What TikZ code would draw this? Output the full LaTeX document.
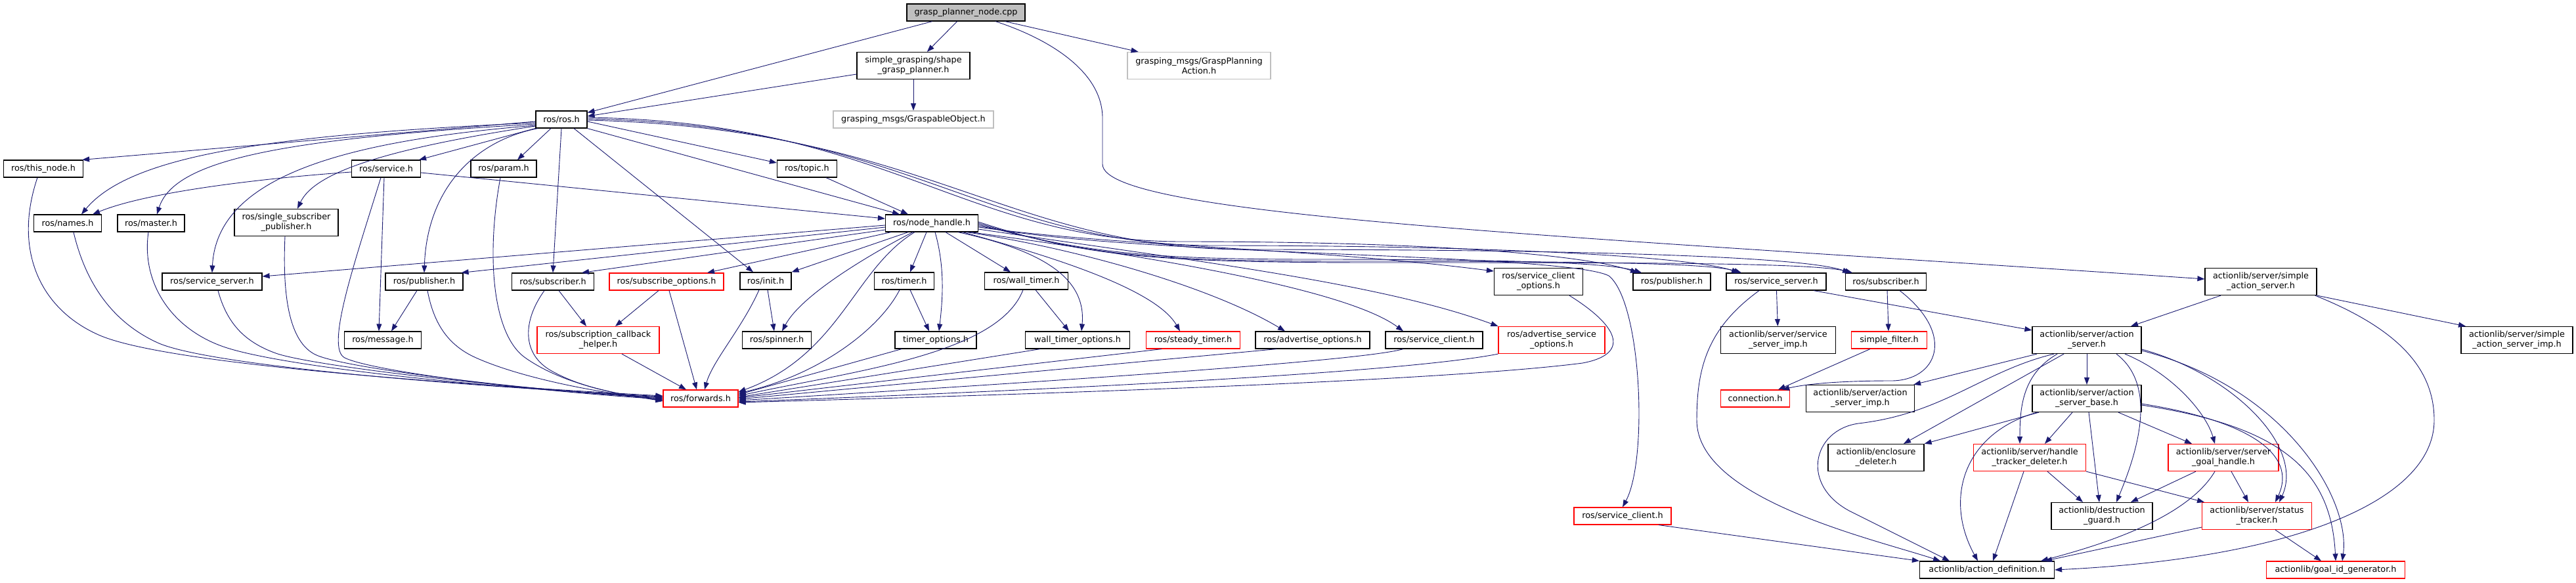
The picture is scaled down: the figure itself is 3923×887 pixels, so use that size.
\documentclass[tikz,border=0pt]{standalone}
\usepackage{fontspec}
\setmainfont{DejaVu Sans}
\usetikzlibrary{arrows.meta}
\definecolor{edgecol}{HTML}{191970}
\definecolor{lgray}{HTML}{BFBFBF}
\definecolor{gfill}{HTML}{BFBFBF}
\definecolor{tred}{HTML}{FF0000}
\tikzset{
  nbox/.style={rectangle, draw=black, fill=white, line width=1.2pt, minimum height=26pt,
    inner sep=0pt, align=center, font=\fontsize{12.8}{15}\selectfont},
  nbox2/.style={nbox, minimum height=41pt},
  redb/.style={draw=tred},
  grayb/.style={draw=lgray},
  edg/.style={draw=edgecol, line width=0.9pt, -{Triangle[length=11pt,width=8pt]}},
}
\begin{document}
\begin{tikzpicture}[x=1pt,y=-1pt]
\useasboundingbox (0,0) rectangle (3923,887);
% ---------- nodes ----------
\node[nbox, fill=gfill, minimum width=180] (gp) at (1471,19) {grasp\_planner\_node.cpp};
\node[nbox2, minimum width=172] (sgp) at (1391,100) {simple\_grasping/shape\\\_grasp\_planner.h};
\node[nbox2, grayb, minimum width=218] (gpa) at (1826,100) {grasping\_msgs/GraspPlanning\\Action.h};
\node[nbox, grayb, minimum width=244] (go) at (1391,182) {grasping\_msgs/GraspableObject.h};
\node[nbox, minimum width=78] (rosh) at (855,182) {ros/ros.h};
\node[nbox, minimum width=121] (thisnode) at (66,257) {ros/this\_node.h};
\node[nbox, minimum width=105] (service) at (588,257) {ros/service.h};
\node[nbox, minimum width=100] (param) at (767,257) {ros/param.h};
\node[nbox, minimum width=91] (topic) at (1229,257) {ros/topic.h};
\node[nbox, minimum width=103] (names) at (103,340) {ros/names.h};
\node[nbox, minimum width=102] (master) at (230,340) {ros/master.h};
\node[nbox2, minimum width=158] (ssp) at (436,339) {ros/single\_subscriber\\\_publisher.h};
\node[nbox, minimum width=141] (nh) at (1419,340) {ros/node\_handle.h};
\node[nbox, minimum width=152] (ssL) at (323,429) {ros/service\_server.h};
\node[nbox, minimum width=118] (pubL) at (646,429) {ros/publisher.h};
\node[nbox, minimum width=125] (subL) at (842,429) {ros/subscriber.h};
\node[nbox, redb, minimum width=174] (subopt) at (1015,429) {ros/subscribe\_options.h};
\node[nbox, minimum width=78] (init) at (1166,428) {ros/init.h};
\node[nbox, minimum width=91] (timer) at (1377,428) {ros/timer.h};
\node[nbox, minimum width=127] (wtimer) at (1563,428) {ros/wall\_timer.h};
\node[nbox2, minimum width=135] (sco) at (2343,429) {ros/service\_client\\\_options.h};
\node[nbox, minimum width=118] (pubR) at (2546,429) {ros/publisher.h};
\node[nbox, minimum width=152] (ssR) at (2705,429) {ros/service\_server.h};
\node[nbox, minimum width=123] (subR) at (2872,429) {ros/subscriber.h};
\node[nbox2, minimum width=170] (sas) at (3443,429) {actionlib/server/simple\\\_action\_server.h};
\node[nbox, minimum width=117] (message) at (583,518) {ros/message.h};
\node[nbox2, redb, minimum width=186] (sch) at (911,518) {ros/subscription\_callback\\\_helper.h};
\node[nbox, minimum width=105] (spinner) at (1183,518) {ros/spinner.h};
\node[nbox, minimum width=124] (topt) at (1425,518) {timer\_options.h};
\node[nbox, minimum width=159] (wtopt) at (1641,518) {wall\_timer\_options.h};
\node[nbox, redb, minimum width=143] (steady) at (1817,518) {ros/steady\_timer.h};
\node[nbox, minimum width=174] (advopt) at (1999,518) {ros/advertise\_options.h};
\node[nbox, minimum width=148] (scB) at (2184,518) {ros/service\_client.h};
\node[nbox2, redb, minimum width=162] (asopt) at (2363,518) {ros/advertise\_service\\\_options.h};
\node[nbox2, minimum width=175] (ssimp) at (2708,518) {actionlib/server/service\\\_server\_imp.h};
\node[nbox, redb, minimum width=115] (sfilter) at (2877,518) {simple\_filter.h};
\node[nbox2, minimum width=166] (asrv) at (3178,518) {actionlib/server/action\\\_server.h};
\node[nbox2, minimum width=170] (sasimp) at (3833,518) {actionlib/server/simple\\\_action\_server\_imp.h};
\node[nbox, redb, minimum width=114] (fwd) at (1067,607) {ros/forwards.h};
\node[nbox, redb, minimum width=105] (conn) at (2673,607) {connection.h};
\node[nbox2, minimum width=165] (asimp) at (2833,607) {actionlib/server/action\\\_server\_imp.h};
\node[nbox2, minimum width=166] (asb) at (3178,607) {actionlib/server/action\\\_server\_base.h};
\node[nbox2, minimum width=146] (encl) at (2857,697) {actionlib/enclosure\\\_deleter.h};
\node[nbox2, redb, minimum width=171] (htd) at (3091,697) {actionlib/server/handle\\\_tracker\_deleter.h};
\node[nbox2, redb, minimum width=168] (sgh) at (3386,697) {actionlib/server/server\\\_goal\_handle.h};
\node[nbox, redb, minimum width=148] (scR) at (2471,786) {ros/service\_client.h};
\node[nbox2, minimum width=154] (dg) at (3201,786) {actionlib/destruction\\\_guard.h};
\node[nbox2, redb, minimum width=167] (stt) at (3437,786) {actionlib/server/status\\\_tracker.h};
\node[nbox, minimum width=205] (ad) at (3026,868) {actionlib/action\_definition.h};
\node[nbox, redb, minimum width=211] (gid) at (3557,868) {actionlib/goal\_id\_generator.h};
% ---------- edges ----------
% grasp_planner_node.cpp
\draw[edg] (gp) -- (rosh);
\draw[edg] (gp) -- (sgp);
\draw[edg] (gp) -- (gpa);
\draw[edg] ([xshift=45]gp.south) .. controls (1600,60) and (1679,110) .. (1679,180) -- (1679,250) .. controls (1679,330) and (2400,360) .. ([yshift=4]sas.west);
% shape_grasp_planner
\draw[edg] ([yshift=-13]sgp.west) -- ([yshift=5]rosh.east);
\draw[edg] (sgp) -- (go);
% ros/ros.h
\draw[edg] ([yshift=-3]rosh.west) -- ([xshift=-2]thisnode.north east);
\draw[edg] ([yshift=-5]rosh.west) .. controls (420,205) and (200,235) .. ([xshift=21]names.north);
\draw[edg] ([yshift=-7]rosh.west) .. controls (420,212) and (265,245) .. ([xshift=9]master.north);
\draw[edg] ([yshift=-9]rosh.west) .. controls (520,215) and (330,270) .. (ssL.north);
\draw[edg] ([yshift=-10]rosh.west) .. controls (600,225) and (480,260) .. ([xshift=17]ssp.north);
\draw[edg] ([xshift=-40]rosh.south) -- ([xshift=-3]service.north east);
\draw[edg] ([xshift=-36]rosh.south) .. controls (720,215) and (650,290) .. (pubL.north);
\draw[edg] ([xshift=-16]rosh.south) -- ([xshift=21]param.north);
\draw[edg] (rosh.south) -- (subL.north);
\draw[edg] ([xshift=19]rosh.south) -- ([xshift=-19]init.north);
\draw[edg] ([yshift=-3]rosh.east) -- ([yshift=9]topic.west);
\draw[edg] (rosh.south east) -- ([xshift=-49]nh.north);
\draw[edg] ([yshift=3]rosh.east) .. controls (1350,185) and (1470,368) .. (1800,368) .. controls (2200,368) and (2420,390) .. ([xshift=-52]pubR.north);
\draw[edg] ([yshift=1]rosh.east) .. controls (1380,190) and (1500,374) .. (1850,374) .. controls (2300,374) and (2580,392) .. ([xshift=-57]ssR.north);
\draw[edg] ([yshift=-1]rosh.east) .. controls (1410,195) and (1530,380) .. (1900,380) .. controls (2450,380) and (2750,392) .. ([xshift=-55]subR.north);
% ros/topic.h
\draw[edg] ([xshift=29]topic.south) -- ([xshift=-36]nh.north);
% ros/service.h
\draw[edg] ([yshift=-5]service.west) .. controls (420,270) and (230,290) .. ([xshift=-14]names.north east);
\draw[edg] ([yshift=-6]service.east) -- ([yshift=7]nh.west);
\draw[edg] ([xshift=-3]service.south) -- ([xshift=-6]message.north);
% left sources into ros/forwards.h
\draw[edg] ([xshift=-9]thisnode.south) .. controls (20,380) and (60,470) .. (150,510) .. controls (240,550) and (600,580) .. ([yshift=4]fwd.west);
\draw[edg] ([xshift=9]names.south) .. controls (130,430) and (170,490) .. (240,522) .. controls (310,554) and (650,585) .. ([yshift=3]fwd.west);
\draw[edg] ([xshift=-4]master.south) .. controls (215,430) and (260,500) .. (340,528) .. controls (420,556) and (700,588) .. ([yshift=2]fwd.west);
\draw[edg] ([xshift=9]ssL.south) .. controls (345,490) and (370,520) .. (420,538) .. controls (470,556) and (750,590) .. ([yshift=1]fwd.west);
\draw[edg] ([xshift=-2]ssp.south) .. controls (430,450) and (440,520) .. (480,540) .. controls (520,560) and (780,592) .. (fwd.west);
\draw[edg] ([xshift=-8]service.south) .. controls (540,400) and (495,530) .. (525,545) .. controls (565,565) and (800,595) .. ([yshift=-1]fwd.west);
\draw[edg] ([xshift=5]pubL.south) .. controls (660,490) and (680,525) .. (725,545) .. controls (790,574) and (900,597) .. ([yshift=-2]fwd.west);
\draw[edg] ([xshift=-5]param.south) .. controls (740,390) and (750,510) .. (800,545) .. controls (850,580) and (920,598) .. ([yshift=-3]fwd.west);
\draw[edg] ([xshift=-13]subL.south) .. controls (795,490) and (795,540) .. (840,565) .. controls (890,593) and (950,601) .. ([yshift=-4]fwd.west);
% publisher / subscriber (left)
\draw[edg] ([xshift=-11]pubL.south) -- ([xshift=13]message.north);
\draw[edg] ([xshift=9]subL.south) -- ([xshift=-18]sch.north);
\draw[edg] ([xshift=-12]subopt.south) -- ([xshift=26]sch.north);
\draw[edg] ([xshift=4]subopt.south) -- ([xshift=-6]fwd.north);
\draw[edg] ([xshift=36]sch.south) -- ([xshift=-22]fwd.north);
% ros/init.h
\draw[edg] ([xshift=-10]init.south) .. controls (1130,500) and (1085,550) .. ([xshift=6]fwd.north);
\draw[edg] ([xshift=3]init.south) -- ([xshift=-4]spinner.north);
% ros/node_handle.h
\draw[edg] ([yshift=-3]nh.west) -- ([yshift=8]ssL.east);
\draw[edg] ([yshift=-6]nh.west) -- ([xshift=-3]pubL.north east);
\draw[edg] ([yshift=-10]nh.west) -- ([xshift=44]subL.north);
\draw[edg] ([xshift=-62]nh.south) -- ([xshift=62]subopt.north);
\draw[edg] ([xshift=-36]nh.south) -- (init.north east);
\draw[edg] ([xshift=-29]nh.south) .. controls (1320,390) and (1220,450) .. ([xshift=8]spinner.north);
\draw[edg] ([xshift=-26]nh.south) .. controls (1300,410) and (1280,540) .. ([yshift=10]fwd.east);
\draw[edg] ([xshift=-8]nh.south) -- ([xshift=9]timer.north);
\draw[edg] ([xshift=5]nh.south) .. controls (1440,410) and (1435,460) .. ([xshift=5]topt.north);
\draw[edg] ([xshift=21]nh.south) -- ([xshift=-24]wtimer.north);
\draw[edg] ([xshift=40]nh.south) .. controls (1580,380) and (1655,420) .. ([xshift=6]wtopt.north);
\draw[edg] ([xshift=47]nh.south) .. controls (1600,390) and (1760,440) .. ([xshift=-20]steady.north);
\draw[edg] ([xshift=53]nh.south) .. controls (1650,380) and (1850,440) .. ([xshift=-42]advopt.north);
\draw[edg] ([xshift=59]nh.south) .. controls (1750,390) and (2050,440) .. ([xshift=-47]scB.north);
\draw[edg] ([yshift=-9]nh.east) .. controls (1800,395) and (2100,430) .. (asopt.north west);
\draw[edg] ([yshift=-6]nh.east) .. controls (1700,375) and (2000,378) .. ([yshift=16]sco.west);
\draw[edg] ([yshift=-4]nh.east) .. controls (1700,390) and (2380,385) .. (2450,420) .. controls (2500,460) and (2510,700) .. (scR.north);
\draw[edg] ([yshift=-2]nh.east) .. controls (1650,385) and (1750,395) .. (2000,395) .. controls (2300,395) and (2450,400) .. ([xshift=-46]pubR.north);
\draw[edg] (nh.east) .. controls (1650,388) and (1750,398) .. (2050,398) .. controls (2400,398) and (2600,400) .. ([xshift=-53]ssR.north);
\draw[edg] ([yshift=2]nh.east) .. controls (1650,390) and (1750,400) .. (2100,400) .. controls (2500,400) and (2760,400) .. ([xshift=-51]subR.north);
% timers and options into ros/forwards.h
\draw[edg] ([xshift=-7]timer.south) .. controls (1340,500) and (1250,570) .. ([yshift=8]fwd.east);
\draw[edg] ([xshift=9]timer.south) -- ([xshift=-10]topt.north);
\draw[edg] ([xshift=-52]topt.south) -- ([yshift=6]fwd.east);
\draw[edg] ([xshift=-5]wtimer.south) .. controls (1520,540) and (1300,565) .. ([yshift=4]fwd.east);
\draw[edg] ([xshift=14]wtimer.south) -- ([xshift=-13]wtopt.north);
\draw[edg] ([xshift=-57]wtopt.south) -- ([yshift=2]fwd.east);
\draw[edg] ([xshift=-48]steady.south) -- ([yshift=1]fwd.east);
\draw[edg] ([xshift=-55]advopt.south) -- ([yshift=-1]fwd.east);
\draw[edg] ([xshift=-47]scB.south) .. controls (2080,548) and (1700,575) .. ([yshift=-3]fwd.east);
\draw[edg] (asopt.south west) .. controls (2150,565) and (1700,590) .. ([yshift=-5]fwd.east);
\draw[edg] ([xshift=47]sco.south) .. controls (2470,500) and (2480,540) .. (2410,553) .. controls (2200,580) and (1600,600) .. ([yshift=-6]fwd.east);
% ros/service_client.h (red)
\draw[edg] ([xshift=55]scR.south) -- (ad.north west);
% ros/service_server.h (right)
\draw[edg] (ssR) -- (ssimp);
\draw[edg] ([xshift=57]ssR.south) -- ([yshift=15]asrv.west);
\draw[edg] ([xshift=-26]ssR.south) .. controls (2600,500) and (2584,560) .. (2584,640) .. controls (2584,760) and (2850,820) .. ([xshift=-71]ad.north);
% ros/subscriber.h (right)
\draw[edg] ([xshift=2]subR.south) -- ([xshift=-1]sfilter.north);
\draw[edg] ([xshift=21]subR.south) .. controls (2980,510) and (2950,580) .. (2880,580) .. controls (2800,580) and (2750,585) .. ([xshift=41]conn.north);
\draw[edg] ([xshift=-29]sfilter.south) -- ([xshift=35]conn.north);
% simple_action_server.h
\draw[edg] ([xshift=-61]sas.south) -- ([xshift=67]asrv.north);
\draw[edg] (sas.south east) -- ([xshift=-78]sasimp.north);
\draw[edg] ([xshift=-3]sas.south east) .. controls (3650,500) and (3707,560) .. (3707,640) .. controls (3707,760) and (3500,850) .. (ad.east);
% action_server.h
\draw[edg] ([xshift=-76]asrv.south) -- ([xshift=-2]asimp.north east);
\draw[edg] ([xshift=-50]asrv.south) .. controls (3020,565) and (2960,630) .. (2830,645) .. controls (2760,655) and (2740,740) .. (2820,780) .. controls (2890,815) and (2940,840) .. ([xshift=-57]ad.north);
\draw[edg] ([xshift=-35]asrv.south) -- ([xshift=42]encl.north);
\draw[edg] (asrv) -- (asb);
\draw[edg] ([xshift=-45]asrv.south) .. controls (3080,570) and (3076,620) .. ([xshift=-15]htd.north);
\draw[edg] ([xshift=45]asrv.south) .. controls (3290,590) and (3250,700) .. ([xshift=22]dg.north);
\draw[edg] ([xshift=58]asrv.south) .. controls (3310,570) and (3360,630) .. ([xshift=-13]sgh.north);
\draw[edg] ([yshift=-14]asrv.east) .. controls (3400,570) and (3510,680) .. ([xshift=34]stt.north);
\draw[edg] ([yshift=-16]asrv.east) .. controls (3480,590) and (3580,760) .. ([xshift=10]gid.north);
% action_server_base.h
\draw[edg] ([xshift=-73]asb.south) -- (encl.north east);
\draw[edg] ([xshift=-76]asb.south) .. controls (2990,660) and (2960,760) .. ([xshift=-14]ad.north);
\draw[edg] ([xshift=-22]asb.south) -- ([xshift=23]htd.north);
\draw[edg] ([xshift=3]asb.south) -- ([xshift=-4]dg.north);
\draw[edg] ([xshift=48]asb.south) -- ([xshift=-48]sgh.north);
\draw[edg] ([yshift=-8]asb.east) .. controls (3420,640) and (3500,690) .. ([xshift=28]stt.north);
\draw[edg] ([yshift=-10]asb.east) .. controls (3480,650) and (3550,720) .. (gid.north);
% handle_tracker_deleter.h
\draw[edg] ([xshift=-9]htd.south) -- ([xshift=9]ad.north);
\draw[edg] ([xshift=27]htd.south) -- ([xshift=-29]dg.north);
\draw[edg] (htd.south east) -- ([xshift=-80]stt.north);
% server_goal_handle.h
\draw[edg] ([xshift=-42]sgh.south) -- ([xshift=44]dg.north);
\draw[edg] ([xshift=-13]sgh.south) .. controls (3330,790) and (3200,830) .. ([xshift=82]ad.north);
\draw[edg] ([xshift=12]sgh.south) -- ([xshift=-13]stt.north);
% status_tracker.h
\draw[edg] ([yshift=-17]stt.west) -- ([xshift=88]ad.north);
\draw[edg] ([xshift=28]stt.south) -- ([xshift=-22]gid.north);
\end{tikzpicture}
\end{document}
